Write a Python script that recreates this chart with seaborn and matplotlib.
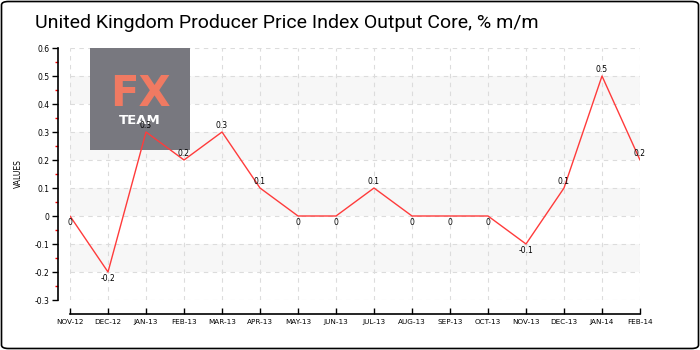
import matplotlib
matplotlib.use("Agg")
import matplotlib.pyplot as plt
from matplotlib.patches import Rectangle, FancyBboxPatch
from matplotlib.ticker import MultipleLocator
import seaborn as sns
import pandas as pd

months = ["NOV-12", "DEC-12", "JAN-13", "FEB-13", "MAR-13", "APR-13", "MAY-13", "JUN-13",
          "JUL-13", "AUG-13", "SEP-13", "OCT-13", "NOV-13", "DEC-13", "JAN-14", "FEB-14"]
values = [0, -0.2, 0.3, 0.2, 0.3, 0.1, 0, 0, 0.1, 0, 0, 0, -0.1, 0.1, 0.5, 0.2]
y_ticks = [-0.3, -0.2, -0.1, 0, 0.1, 0.2, 0.3, 0.4, 0.5, 0.6]
title = "United Kingdom Producer Price Index Output Core, % m/m"

df = pd.DataFrame({"idx": range(len(months)), "value": values})

sns.set_theme(style="white")
plt.rcParams["font.family"] = ["DejaVu Sans"]
plt.rcParams["text.color"] = "black"
plt.rcParams["axes.labelcolor"] = "black"
plt.rcParams["xtick.color"] = "black"
plt.rcParams["ytick.color"] = "black"

W, H = 700, 350
fig = plt.figure(figsize=(7, 3.5), dpi=100)
fig.patch.set_facecolor("white")

# plot area in pixel coordinates
left, right, top, bottom = 70, 640, 48, 300
ax = fig.add_axes([left / W, (H - bottom) / H, (right - left) / W, (bottom - top) / H])

# alternating bands
for lo in [0.4, 0.2, 0.0, -0.2]:
    ax.axhspan(lo, lo + 0.1, color="#f7f7f7", zorder=0, lw=0)

ax.set_axisbelow(True)
ax.grid(True, axis="both", linestyle=(0, (4, 4)), color="#dcdcdc", lw=0.8)

# logo block
ax.add_patch(Rectangle((20 / 570, (300 - 150) / 252), 100 / 570, 102 / 252,
                       transform=ax.transAxes, facecolor="#78787f", edgecolor="none",
                       zorder=1, clip_on=False))
ax.text(70 / 570, (300 - 94) / 252, "FX", transform=ax.transAxes, ha="center", va="center",
        color="#f07a62", fontsize=30, fontweight="bold", zorder=2)
ax.text(70 / 570, (300 - 120) / 252, "TEAM", transform=ax.transAxes, ha="center", va="center",
        color="white", fontsize=9.5, fontweight="bold", zorder=2)

sns.lineplot(data=df, x="idx", y="value", ax=ax, color="#ff3b3b", lw=1, zorder=3)

for i, v in zip(df["idx"], df["value"]):
    label = f"{v:g}"
    if v > 0:
        ax.annotate(label, (i, v), xytext=(0, 1.5), textcoords="offset points",
                    ha="center", va="bottom", fontsize=5.5, zorder=4)
    else:
        ax.annotate(label, (i, v), xytext=(0, -1.5), textcoords="offset points",
                    ha="center", va="top", fontsize=5.5, zorder=4)

ax.set_xlim(0, len(months) - 1)
ax.set_ylim(-0.3, 0.6)
ax.set_xticks(list(df["idx"]))
ax.set_xticklabels(months)
ax.set_yticks(y_ticks)
ax.set_yticklabels([f"{t:g}" for t in y_ticks])
ax.yaxis.set_minor_locator(MultipleLocator(0.05))
ax.tick_params(axis="y", which="major", direction="out", length=4, width=1,
               color="black", pad=2, labelsize=5.5, left=True)
ax.tick_params(axis="y", which="minor", direction="out", length=2.5, width=1,
               color="red", left=True)
ax.tick_params(axis="x", which="major", direction="in", length=4, width=1,
               color="black", pad=4, labelsize=5.2, bottom=True)
ax.tick_params(axis="x", which="minor", length=0)

for s in ["top", "right"]:
    ax.spines[s].set_visible(False)
ax.spines["left"].set_position(("outward", 9))
ax.spines["bottom"].set_position(("outward", 10))
for s in ["left", "bottom"]:
    ax.spines[s].set_color("black")
    ax.spines[s].set_linewidth(1.2)

ax.set_xlabel("")
ax.set_ylabel("VALUES", fontsize=5.5, labelpad=8)

fig.text(35 / W, 1 - 23 / H, title, fontsize=14, ha="left", va="center", color="black",
         family=["Roboto", "DejaVu Sans"])

fig.patches.append(FancyBboxPatch((1.5 / W, 1.5 / H), (W - 3) / W, (H - 3) / H,
                                  boxstyle="round,pad=0,rounding_size=0.01",
                                  transform=fig.transFigure, facecolor="none",
                                  edgecolor="black", lw=1.2))

fig.savefig("out.png", dpi=100)
